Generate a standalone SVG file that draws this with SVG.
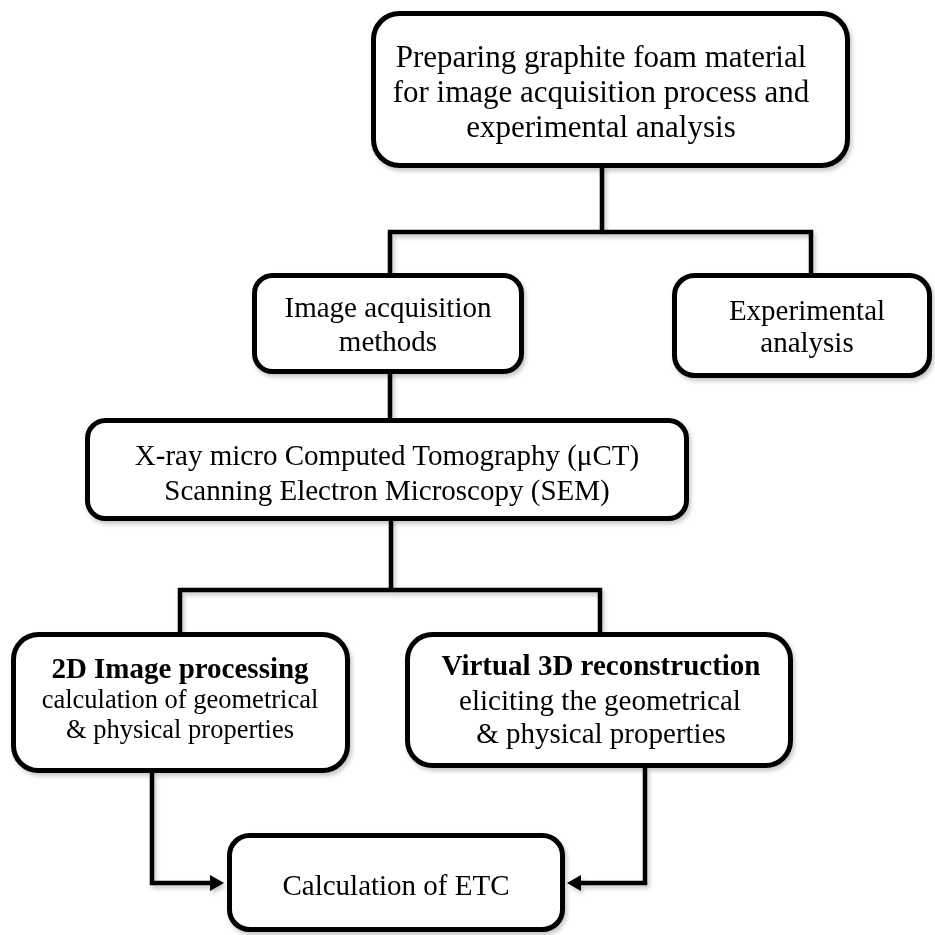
<svg xmlns="http://www.w3.org/2000/svg" width="935" height="935" viewBox="0 0 935 935">
<style>
.box{fill:#fff;stroke:#000;stroke-width:5}
.conn{fill:none;stroke:#000;stroke-width:4.5;stroke-linejoin:miter;stroke-linecap:square}
text{font-family:"Liberation Serif","Times New Roman",serif;fill:#000;text-anchor:middle}
.t31{font-size:31px}
.t29{font-size:29px}
.t26{font-size:26.5px}
.b{font-weight:bold}
</style>
<defs>
<filter id="sh" x="-10%" y="-10%" width="120%" height="130%">
<feDropShadow dx="2" dy="3" stdDeviation="2" flood-color="#000" flood-opacity="0.22"/>
</filter>
<marker id="arr" markerUnits="userSpaceOnUse" markerWidth="14" markerHeight="16" refX="3" refY="8" orient="auto">
<path d="M0,0 L14,8 L0,16 z" fill="#000"/>
</marker>
</defs>
<rect width="935" height="935" fill="#fff"/>
<g id="connectors" filter="url(#sh)">
<path class="conn" d="M602,167 V232 M390,232 H811 M390,232 V273 M811,232 V273"/>
<path class="conn" d="M390,374 V418"/>
<path class="conn" d="M391,521 V590 M180,590 H600 M180,590 V632 M600,590 V632"/>
<path class="conn" d="M152,773 V883 H213" marker-end="url(#arr)" style="stroke-linecap:butt"/>
<path class="conn" d="M645,768 V883 H578" marker-end="url(#arr)" style="stroke-linecap:butt"/>
</g>
<g id="n-prep" filter="url(#sh)">
<rect class="box" x="373.5" y="13.5" width="474" height="152" rx="26"/>
<text class="t31" x="601" y="67">Preparing graphite foam material</text>
<text class="t31" x="601" y="102">for image acquisition process and</text>
<text class="t31" x="601" y="137">experimental analysis</text>
</g>
<g id="n-acq" filter="url(#sh)">
<rect class="box" x="254.5" y="275.5" width="267" height="96" rx="18"/>
<text class="t29" x="388" y="317">Image acquisition</text>
<text class="t29" x="388" y="351">methods</text>
</g>
<g id="n-exp" filter="url(#sh)">
<rect class="box" x="674.5" y="275.5" width="255" height="100" rx="20"/>
<text class="t29" x="807" y="320">Experimental</text>
<text class="t29" x="807" y="352">analysis</text>
</g>
<g id="n-xray" filter="url(#sh)">
<rect class="box" x="87.5" y="420.5" width="599" height="98" rx="18"/>
<text class="t29" x="387" y="465">X-ray micro Computed Tomography (μCT)</text>
<text class="t29" x="387" y="500">Scanning Electron Microscopy (SEM)</text>
</g>
<g id="n-2d" filter="url(#sh)">
<rect class="box" x="13.5" y="634.5" width="334" height="136" rx="25"/>
<text class="t29 b" x="180" y="678">2D Image processing</text>
<text class="t26" x="180" y="708">calculation of geometrical</text>
<text class="t26" x="180" y="738">&amp; physical properties</text>
</g>
<g id="n-3d" filter="url(#sh)">
<rect class="box" x="407.5" y="634.5" width="383" height="131" rx="25"/>
<text class="t29 b" x="601" y="675">Virtual 3D reconstruction</text>
<text class="t29" x="600" y="710">eliciting the geometrical</text>
<text class="t29" x="601" y="743">&amp; physical properties</text>
</g>
<g id="n-etc" filter="url(#sh)">
<rect class="box" x="229.5" y="835.5" width="333" height="94" rx="20"/>
<text class="t29" x="396" y="895">Calculation of ETC</text>
</g>
</svg>
